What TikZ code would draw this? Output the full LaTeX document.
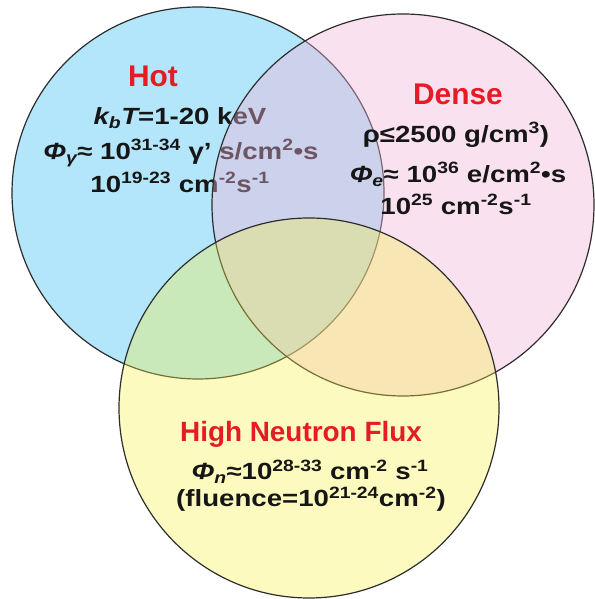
\documentclass[tikz,border=0pt]{standalone}
\usepackage{fontspec}
\usepackage{xcolor}
\usepackage{tikz}
\setmainfont{Liberation Sans}
\newfontfamily\datafont[FakeStretch=1.18]{Liberation Sans}

\definecolor{hotblue}{RGB}{179,230,250}
\definecolor{densepink}{RGB}{242,180,217}
\definecolor{fluxyellow}{RGB}{246,240,69}
\definecolor{titlered}{RGB}{228,28,36}
\definecolor{datablack}{RGB}{22,22,22}
\definecolor{rimgray}{RGB}{45,45,45}

\begin{document}
\begin{tikzpicture}[
        x=1bp, y=1bp,
        rim/.style={
            draw=rimgray,
            line width=1.2bp
        },
        title/.style={
            font=\fontsize{30}{30}\selectfont\bfseries,
            text=titlered,
            anchor=base,
            inner sep=0pt
        },
        data/.style={
            font=\datafont\fontsize{23.5}{24}\selectfont\bfseries,
            text=datablack,
            anchor=base,
            inner sep=0pt
        }
    ]

    \useasboundingbox (0,0) rectangle (595,599);

    % Hot

    \filldraw[rim, fill=hotblue] (198,406) circle[radius=186];

    \node[title] (hot) at (153,512) {Hot};
    \node[data] (hottemp) at (180,474)
    {{\itshape k\textsubscript{b}T}=1-20 keV};
    \node[data] (hotphoton) at (181,439)
    {{\itshape Φ\textsubscript{γ}}≈ 10\textsuperscript{31-34} γ’ s/cm\textsuperscript{2}•s};
    \node[data] (hotrate) at (180,406)
    {10\textsuperscript{19-23} cm\textsuperscript{-2}s\textsuperscript{-1}};

    % Dense

    \filldraw[rim, fill=densepink, fill opacity=0.4] (403,394) circle[radius=191];

    \node[title] (dense) at (458,494) {Dense};
    \node[data] (densemass) at (456,456)
    {ρ≤2500 g/cm\textsuperscript{3})};
    \node[data] (denseelectron) at (458,416)
    {{\itshape Φ\textsubscript{e}}≈ 10\textsuperscript{36} e/cm\textsuperscript{2}•s};
    \node[data] (denserate) at (456,384)
    {10\textsuperscript{25} cm\textsuperscript{-2}s\textsuperscript{-1}};

    % High Neutron Flux

    \filldraw[rim, fill=fluxyellow, fill opacity=0.35] (309,406-215) circle[radius=190];

    \node[title, font=\fontsize{28}{28}\selectfont\bfseries] (flux) at (301,157)
    {High Neutron Flux};
    \node[data] (fluxneutron) at (310,119)
    {{\itshape Φ\textsubscript{n}}≈10\textsuperscript{28-33} cm\textsuperscript{-2} s\textsuperscript{-1}};
    \node[data] (fluxfluence) at (311,92)
    {(fluence=10\textsuperscript{21-24}cm\textsuperscript{-2})};

\end{tikzpicture}
\end{document}
